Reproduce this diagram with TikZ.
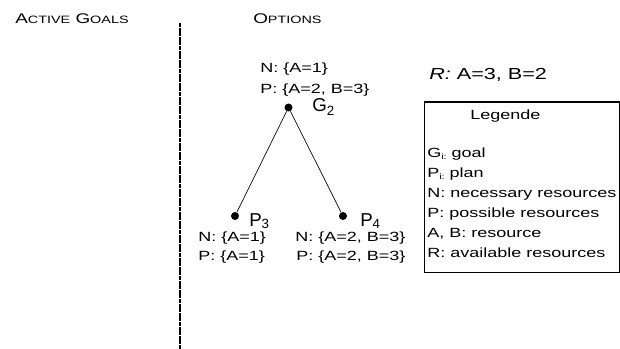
\documentclass[tikz,border=0pt]{standalone}
\usepackage{fontspec}
\setmainfont[FakeStretch=1.35]{Liberation Sans}
\newfontfamily\plainsans{Liberation Sans}
\usetikzlibrary{positioning}

\begin{document}
\begin{tikzpicture}[x=0.75pt, y=-0.75pt,
    txt/.style={anchor=base west, inner sep=0pt, font=\fontsize{10}{12}\selectfont},
    head/.style={anchor=base west, inner sep=0pt, font=\fontsize{10.5}{13}\selectfont},
    lbl/.style={anchor=base west, inner sep=0pt, font=\plainsans\fontsize{14}{16}\selectfont},
    dot/.style={circle, fill=black, inner sep=0pt, minimum size=6pt},
    edge/.style={draw=black, line width=0.5pt},
    divider/.style={draw=black, line width=2.1pt, dash pattern=on 3pt off 0.45pt},
    legbox/.style={draw=black, line width=0.8pt, inner sep=0pt, anchor=north west}
]
    \useasboundingbox (0,0) rectangle (620,349);

    % Column headers
    \node[head] (hdgoals) at (15,24) {A{\fontsize{8}{10}\selectfont CTIVE} G{\fontsize{8}{10}\selectfont OALS}};
    \node[head] (hdoptions) at (253,24) {O{\fontsize{8}{10}\selectfont PTIONS}};

    % Divider
    \coordinate (divtop) at (180,23);
    \coordinate (divbot) at (180,349);
    \draw[divider] (divtop) -- (divbot);

    % Goal G2
    \node[txt] (g2n) at (260,73) {N: \{A=1\}};
    \node[txt] (g2p) at (260,94) {P: \{A=2, B=3\}};
    \node[dot] (g2) at (288.5,107.5) {};
    \node[lbl] (g2lbl) at (312,112) {G{\fontsize{10}{10}\selectfont\raisebox{-3pt}{2}}};

    % Plans
    \node[dot] (p3) at (235,216) {};
    \node[lbl] (p3lbl) at (249,226) {P{\fontsize{10}{10}\selectfont\raisebox{-1.5pt}{3}}};
    \node[dot] (p4) at (343,216) {};
    \node[lbl] (p4lbl) at (360,226) {P{\fontsize{10}{10}\selectfont\raisebox{-1.5pt}{4}}};

    \node[txt] (p3n) at (198,241) {N: \{A=1\}};
    \node[txt] (p3p) at (198,260) {P: \{A=1\}};
    \node[txt] (p4n) at (295,241) {N: \{A=2, B=3\}};
    \node[txt] (p4p) at (296,260) {P: \{A=2, B=3\}};

    \draw[edge] (g2) -- (p3);
    \draw[edge] (g2) -- (p4);

    % Available resources
    \node[txt, font=\fontsize{12}{14}\selectfont] (avail) at (429,80) {\textit{R:} A=3, B=2};

    % Legend
    \node[legbox, minimum width=146pt, minimum height=127.5pt] (legend) at (424,101.5) {};
    \node[txt] (legtitle) at (470,120) {Legende};
    \node[txt] (leg1) at (427,157) {G{\fontsize{6}{6}\selectfont\raisebox{-1.5pt}{i:}} goal};
    \node[txt] (leg2) at (427,177) {P{\fontsize{6}{6}\selectfont\raisebox{-1.5pt}{i:}} plan};
    \node[txt] (leg3) at (427,197) {N: necessary resources};
    \node[txt] (leg4) at (427,217) {P: possible resources};
    \node[txt] (leg5) at (427,237) {A, B: resource};
    \node[txt] (leg6) at (427,257) {R: available resources};
\end{tikzpicture}
\end{document}
